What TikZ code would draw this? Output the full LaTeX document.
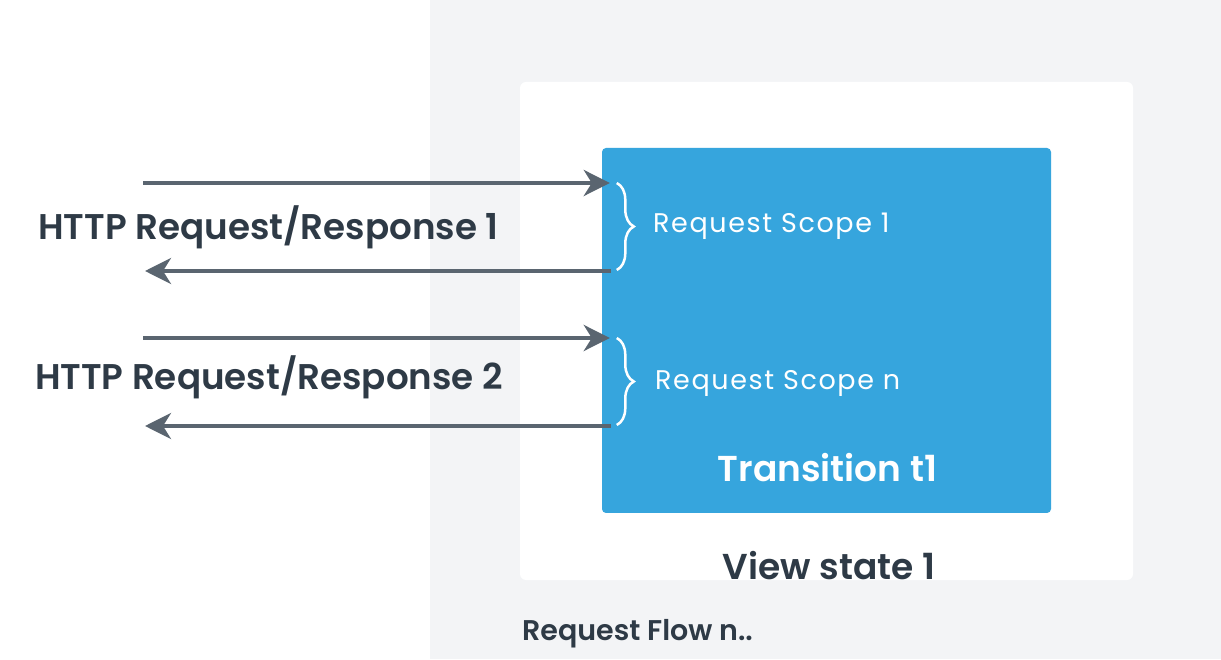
\documentclass[tikz,border=0pt]{standalone}
\usepackage{fontspec}
\setmainfont{Poppins}[BoldFont={Poppins SemiBold}]
\newfontfamily\spacedfont{Poppins}[LetterSpace=6]
\usetikzlibrary{positioning,arrows.meta,decorations.pathreplacing}
\definecolor{panelgray}{HTML}{F3F4F6}
\definecolor{scopeblue}{HTML}{36A5DD}
\definecolor{arrowgray}{HTML}{5A6570}
\definecolor{textdark}{HTML}{2E3A46}
\tikzset{
  >={Stealth[length=26pt,width=26pt,inset=8pt]},
  flow/.style={->,line width=4pt,draw=arrowgray},
  viewbox/.style={fill=white,draw=none,rounded corners=6pt,inner sep=0pt,
    minimum width=613pt,minimum height=498pt},
  transbox/.style={fill=scopeblue,draw=none,rounded corners=4pt,inner sep=0pt,
    minimum width=449pt,minimum height=365pt},
  scopebrace/.style={decorate,decoration={brace,amplitude=17pt},draw=white,
    line width=2.5pt},
  httplbl/.style={font=\bfseries\fontsize{35.7}{42}\selectfont,text=textdark,
    anchor=base,inner sep=0pt},
  scopelbl/.style={font=\spacedfont\fontsize{27}{32}\selectfont,text=white,
    anchor=base west,inner sep=0pt},
  titlelbl/.style={font=\bfseries\fontsize{36}{42}\selectfont,anchor=base,
    inner sep=0pt},
  flowlbl/.style={font=\bfseries\fontsize{28.5}{34}\selectfont,text=textdark,
    anchor=base west,inner sep=0pt},
}

\begin{document}
\begin{tikzpicture}[x=1pt,y=1pt]
  \useasboundingbox (0,0) rectangle (1221,659);
  \fill[panelgray] (430,0) rectangle (1221,659);
  \node[viewbox] (view) at (826.5,328) {};
  \node[transbox] (trans) at (826.5,328.5) {};
  % left side
  \coordinate (req1) at (143,476);
  \coordinate (res1) at (145,388);
  \coordinate (req2) at (143,321);
  \coordinate (res2) at (145,233);
  \draw[flow,shorten >=-8pt] (req1) -- (req1 -| trans.west);
  \draw[flow] ([xshift=9pt]res1 -| trans.west) -- (res1);
  \draw[flow,shorten >=-8pt] (req2) -- (req2 -| trans.west);
  \draw[flow] ([xshift=9pt]res2 -| trans.west) -- (res2);
  \node[httplbl] (http1) at (268.5,419) {HTTP Request/Response 1};
  \node[httplbl] (http2) at (269,269) {HTTP Request/Response 2};
  % scopes
  \draw[scopebrace] ([xshift=15pt]req1 -| trans.west) -- ([xshift=15pt,yshift=1pt]res1 -| trans.west);
  \draw[scopebrace] ([xshift=15pt]req2 -| trans.west) -- ([xshift=15pt,yshift=1pt]res2 -| trans.west);
  \node[scopelbl] (scope1) at (653,426) {Request Scope 1};
  \node[scopelbl] (scopen) at (655,269) {Request Scope n};
  \node[titlelbl,text=white] (tlbl) at (827.5,177) {Transition t1};
  \node[titlelbl,text=textdark] (vlbl) at (829,80) {View state 1};
  \node[flowlbl] (rflow) at (522,19) {Request Flow n..};
\end{tikzpicture}
\end{document}
